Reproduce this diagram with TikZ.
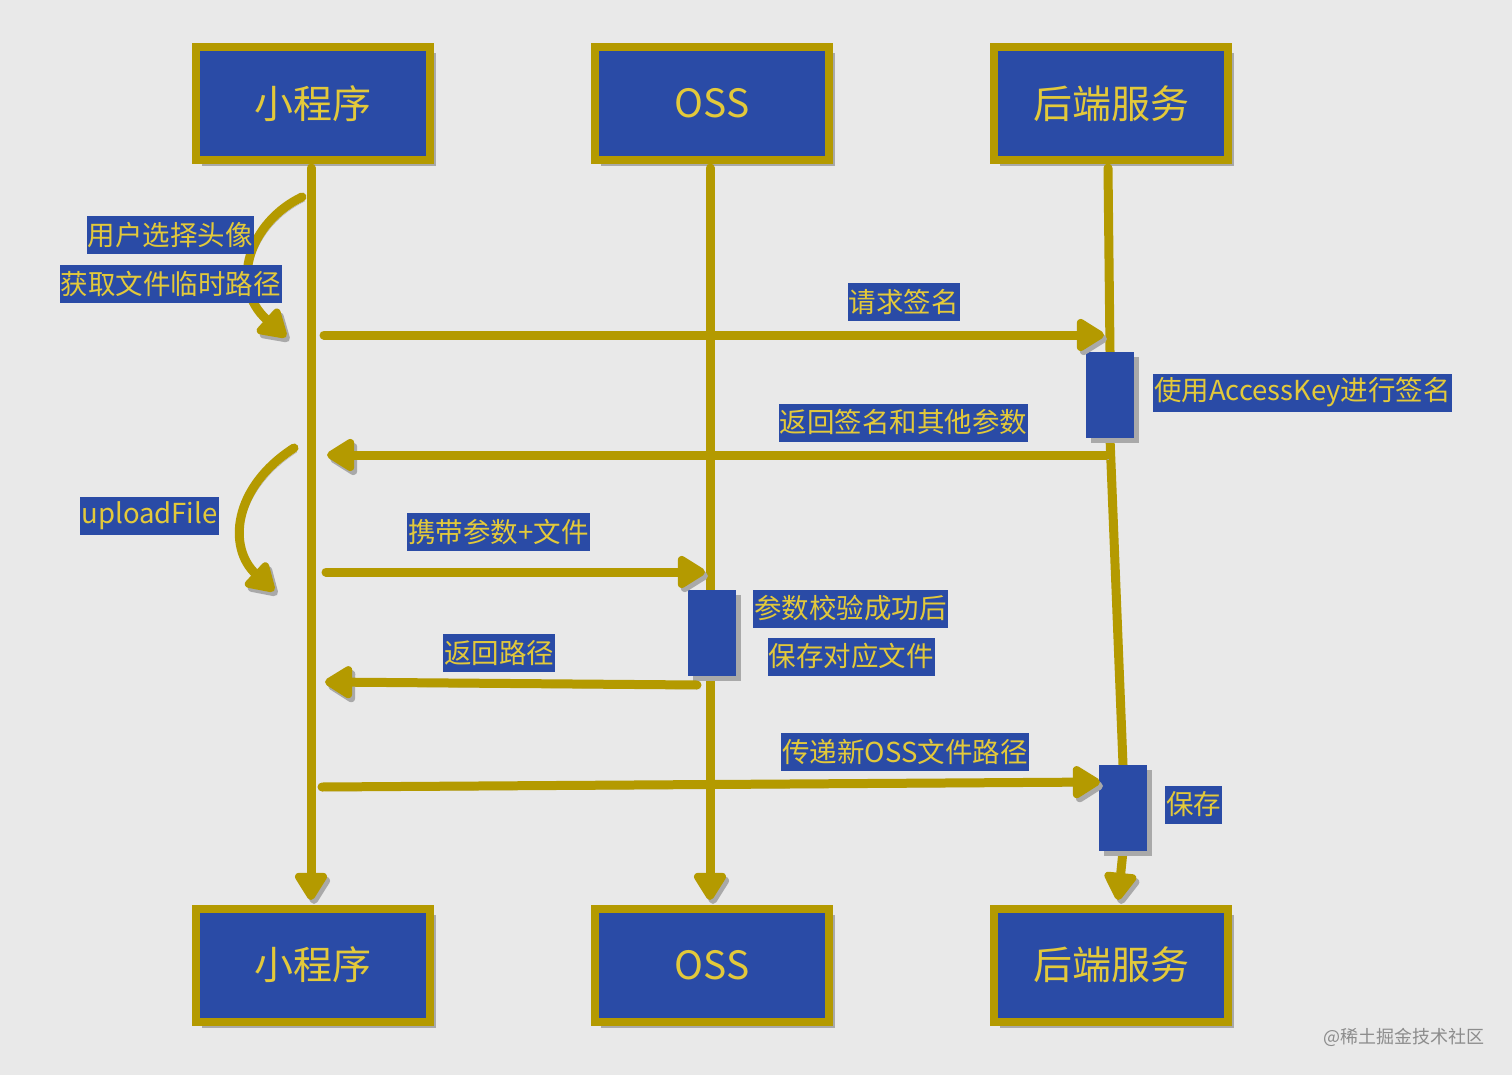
\documentclass[tikz,border=0pt]{standalone}
\usepackage{fontspec}
\setmainfont{Noto Sans CJK SC}
\usetikzlibrary{arrows.meta,shadows}
\definecolor{bg}{HTML}{E9E9E9}
\definecolor{boxblue}{HTML}{2A4BA6}
\definecolor{gold}{HTML}{B49A00}
\definecolor{txtgold}{HTML}{E3C93A}
\definecolor{shgray}{HTML}{A9A9A9}
\definecolor{wmgray}{HTML}{8C8C8C}
\begin{document}
\begin{tikzpicture}[x=1pt,y=-1pt,
  actor/.style={draw=gold,line width=8pt,fill=boxblue,minimum width=234pt,minimum height=113pt,
    text=txtgold,font=\fontsize{39}{44}\selectfont,inner sep=0pt,
    drop shadow={shadow xshift=6pt,shadow yshift=-6pt,fill=shgray,opacity=1}},
  act/.style={fill=boxblue,minimum width=48pt,minimum height=86pt,inner sep=0pt,
    drop shadow={shadow xshift=5pt,shadow yshift=-5pt,fill=shgray,opacity=1}},
  lab/.style={fill=boxblue,text=txtgold,font=\fontsize{27.5}{31}\selectfont,inner xsep=1pt,inner ysep=0pt,minimum height=38pt},
  wline/.style={draw=gold,line width=9pt,line cap=round,
    preaction={draw=shgray,transform canvas={shift={(3pt,-4pt)}}}},
  tip/.style={-{Triangle[round,length=31pt,width=36pt]}}
]
\fill[bg] (0,0) rectangle (1512,1075);
\useasboundingbox (0,0) rectangle (1512,1075);

% actors
\node[actor] (a1) at (313,103.5) {小程序};
\node[actor] (b1) at (712,103.5) {OSS};
\node[actor] (c1) at (1111,103.5) {后端服务};

% lifelines
\coordinate (a1b) at (311,168);
\coordinate (a2t) at (311,900);
\coordinate (b1b) at (710,168);
\coordinate (b2t) at (710,900);
\coordinate (c1b) at (1108,168);
\coordinate (c2t) at (1118,900);

\node[act] (act1) at (1110,395) {};
\node[act] (act2) at (711.5,632.5) {};
\node[act] (act3) at (1123,808) {};

\draw[wline,tip] (a1b) -- (a2t);
\draw[wline,tip] (b1b) -- (b2t);
\draw[wline] (c1b) -- (act1.north);
\draw[wline] (act1.south) -- (act3.north);
\draw[wline,tip] (act3.south) -- (c2t);

% activation boxes on top of lifelines
\node[act] at (act1) {};
\node[act] at (act2) {};
\node[act] at (act3) {};

\node[actor] (a2) at (313,965) {小程序};
\node[actor] (b2) at (712,965) {OSS};
\node[actor] (c2) at (1111,965) {后端服务};

% message endpoints
\coordinate (p1s) at (324,335);
\coordinate (p1e) at (1104,335);
\coordinate (p2s) at (1106,455);
\coordinate (p2e) at (327,455);
\coordinate (p3s) at (326,572);
\coordinate (p3e) at (705,572);
\coordinate (p4s) at (697,685);
\coordinate (p4e) at (325,682);
\coordinate (p5s) at (322,787);
\coordinate (p5e) at (1100,782);
\coordinate (s1s) at (302,197);
\coordinate (s1e) at (286,337);
\coordinate (s2s) at (294,448);
\coordinate (s2e) at (274,591);

\draw[wline,tip] (p1s) -- (p1e);
\draw[wline,tip] (p2s) -- (p2e);
\draw[wline,tip] (p3s) -- (p3e);
\draw[wline,tip] (p4s) -- (p4e);
\draw[wline,tip] (p5s) -- (p5e);
\draw[wline,tip] (s1s) .. controls (250,222) and (228,285) .. (s1e);
\draw[wline,tip] (s2s) .. controls (232,488) and (228,548) .. (s2e);

% labels
\node[lab] (l1) at (903.5,302) {请求签名};
\node[lab] (l2) at (903.5,422.5) {返回签名和其他参数};
\node[lab] (l3) at (498.5,531.5) {携带参数+文件};
\node[lab] (l4) at (499,653) {返回路径};
\node[lab] (l5) at (905,752) {传递新OSS文件路径};
\node[lab] (l6) at (170,235.5) {用户选择头像};
\node[lab] (l7) at (170.5,284) {获取文件临时路径};
\node[lab] (l8) at (149.5,515.5) {uploadFile};
\node[lab] (l9) at (1302.5,392.5) {使用AccessKey进行签名};
\node[lab] (l10) at (850.5,608.5) {参数校验成功后};
\node[lab] (l11) at (851,656.5) {保存对应文件};
\node[lab] (l12) at (1193.5,804.5) {保存};

\node[text=wmgray,font=\fontsize{18}{20}\selectfont] (wm) at (1404,1037) {@稀土掘金技术社区};
\end{tikzpicture}
\end{document}
